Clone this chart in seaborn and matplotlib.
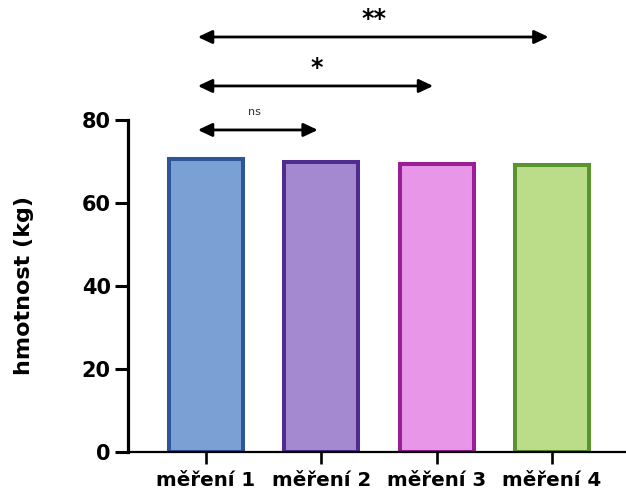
import matplotlib
matplotlib.use("Agg")
import matplotlib.pyplot as plt
import seaborn as sns
import pandas as pd

categories = ["měření 1", "měření 2", "měření 3", "měření 4"]
values = [70.7, 69.9, 69.5, 69.1]
fill_colors = ["#7BA0D4", "#A589D0", "#E896E8", "#BBDC89"]
edge_colors = ["#2E5597", "#4F2D8E", "#9A1E96", "#5A9430"]
yticks = [0, 20, 40, 60, 80]
comparisons = [(0, 1, "ns"), (0, 2, "*"), (0, 3, "**")]
ylabel = "hmotnost (kg)"

sns.set_style("ticks", {"axes.edgecolor": "black", "text.color": "black",
                        "xtick.color": "black", "ytick.color": "black",
                        "axes.labelcolor": "black"})
plt.rcParams["font.family"] = ["DejaVu Sans"]

fig = plt.figure(figsize=(6.26, 4.95), dpi=100)
ax = fig.add_axes([0.2045, 0.0869, 0.7935, 0.6707])

df = pd.DataFrame({"cat": categories, "val": values})
sns.barplot(data=df, x="cat", y="val", hue="cat", palette=fill_colors,
            legend=False, width=0.64, ax=ax, saturation=1)
for p, ec in zip(ax.patches, edge_colors):
    p.set_edgecolor(ec)
    p.set_linewidth(2.9)

ax.set_xlim(-0.675, 3.63)
ax.set_ylim(0, 80)
ax.set_yticks(yticks)
ax.set_xlabel("")
ax.set_ylabel(ylabel, fontsize=16, fontweight="bold", color="black")
ax.yaxis.set_label_coords(-0.19, 0.5)
for s in ["top", "right"]:
    ax.spines[s].set_visible(False)
ax.spines["left"].set_linewidth(2.3)
ax.spines["bottom"].set_linewidth(1.6)
ax.tick_params(axis="y", length=9.5, width=2.2, labelsize=15, pad=3,
               colors="black")
ax.tick_params(axis="x", length=8.5, width=1.9, labelsize=14.3, pad=5,
               colors="black")
for lab in ax.get_xticklabels() + ax.get_yticklabels():
    lab.set_fontweight("bold")

levels = [77.6, 88.2, 100.0]
for (a, b, txt), yl in zip(comparisons, levels):
    ax.annotate("", xy=(a - 0.07, yl), xytext=(b - 0.03, yl),
                arrowprops=dict(arrowstyle="<|-|>,head_length=0.85,head_width=0.4",
                                color="black", lw=2.0, shrinkA=0, shrinkB=0),
                annotation_clip=False)
    if txt == "ns":
        ax.text((a + b) / 2 - 0.08, yl + 4.4, txt, ha="center", va="center",
                fontsize=8, color="#333333", clip_on=False)
    else:
        ax.text((a + b) / 2 - 0.04, yl + 4.4, txt, ha="center", va="center",
                fontsize=17, fontweight="bold", clip_on=False)

fig.savefig("out.png", dpi=100)
